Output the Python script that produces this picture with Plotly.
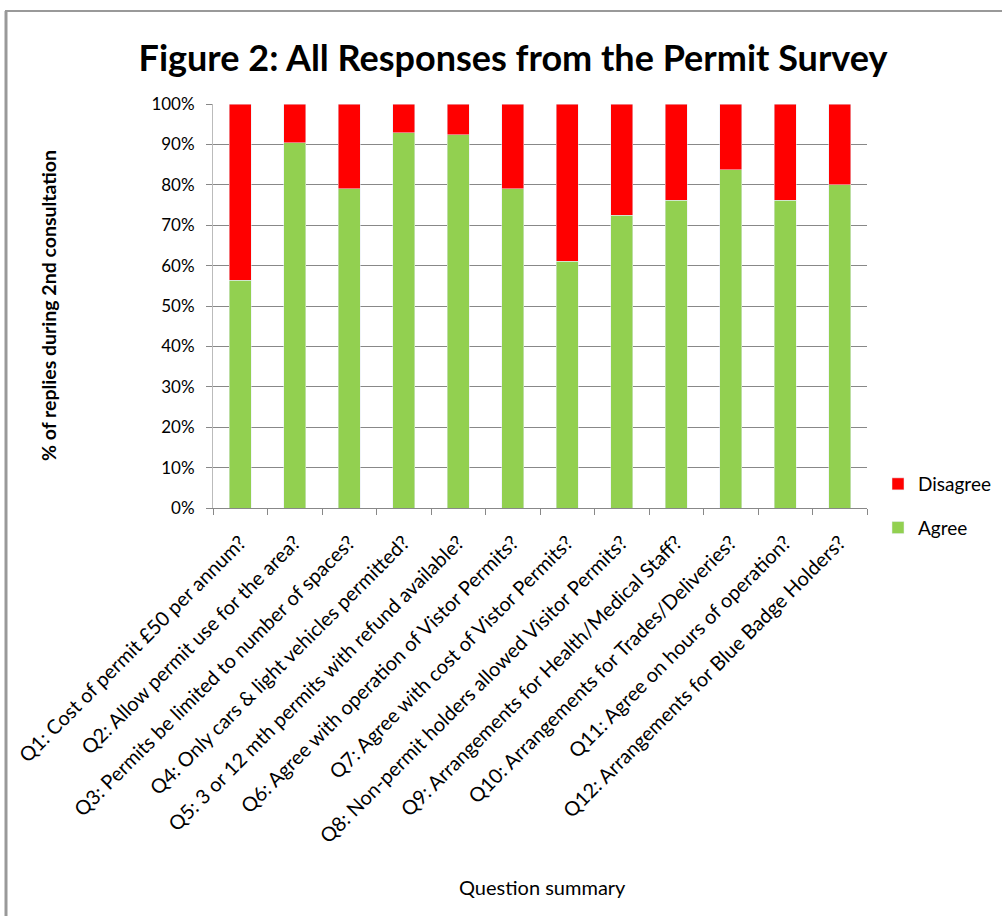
import plotly.graph_objects as go

questions = [
    "Q1: Cost of permit £50 per annum?",
    "Q2: Allow permit use for the area?",
    "Q3: Permits be limited to number of spaces?",
    "Q4: Only cars & light vehicles permitted?",
    "Q5: 3 or 12 mth permits with refund available?",
    "Q6: Agree with operation of Vistor Permits?",
    "Q7: Agree with cost of Vistor Permits?",
    "Q8: Non-permit holders allowed Visitor Permits?",
    "Q9: Arrangements for Health/Medical Staff?",
    "Q10: Arrangements for Trades/Deliveries?",
    "Q11: Agree on hours of operation?",
    "Q12: Arrangements for Blue Badge Holders?",
]
agree = [56.4, 90.4, 79.0, 92.9, 92.4, 79.0, 61.1, 72.5, 76.2, 83.7, 76.2, 80.0]
disagree = [round(100 - a, 1) for a in agree]
y_ticks = [0, 10, 20, 30, 40, 50, 60, 70, 80, 90, 100]
y_tick_labels = [f"{v}%" for v in y_ticks]

FONT = "Lato, 'Open Sans', sans-serif"

fig = go.Figure()
fig.add_trace(go.Bar(x=questions, y=agree, name="Agree", marker_color="#92D050",
                     legendgroup="a", legendrank=2))
fig.add_trace(go.Bar(x=questions, y=disagree, name="Disagree", marker_color="#FF0000",
                     legendgroup="d", legendrank=1))

L, R, T, B = 213, 867, 104, 508
W, H = 1002, 916
def px(x):
    return (x - L) / (R - L)
def py(y):
    return (B - y) / (B - T)

fig.update_layout(
    width=W, height=H,
    margin=dict(l=L, r=W - R, t=T, b=H - B, autoexpand=False),
    barmode="stack", bargap=0.6,
    paper_bgcolor="white", plot_bgcolor="white",
    font=dict(family=FONT, color="black", size=17),
    title=dict(text="<b>Figure 2: All Responses from the Permit Survey</b>",
               x=0.512, xanchor="center", y=1 - 58 / H, yanchor="middle",
               font=dict(size=36, family=FONT, color="black")),
    legend=dict(x=px(878), y=py(465), xanchor="left", yanchor="top",
                traceorder="grouped", tracegroupgap=16,
                font=dict(size=19, family=FONT), bgcolor="rgba(0,0,0,0)"),
    xaxis=dict(type="category", tickangle=-45, tickson="boundaries",
               ticks="outside", ticklen=6, tickcolor="#888888",
               showline=True, linecolor="#888888", showgrid=False,
               ticklabelstandoff=14,
               tickfont=dict(size=20, family=FONT)),
    yaxis=dict(range=[0, 100], tickvals=y_ticks, ticktext=y_tick_labels,
               ticks="outside", ticklen=6, tickcolor="#888888",
               showline=True, linecolor="#BBBBBB", showgrid=True,
               gridcolor="#888888", gridwidth=1, ticklabelstandoff=8,
               tickfont=dict(size=17, family=FONT)),
    annotations=[
        dict(text="<b>% of replies during 2nd consultation</b>", xref="paper", yref="paper",
             x=px(48), y=py(306), xanchor="center", yanchor="middle", textangle=-90,
             showarrow=False, font=dict(size=19.5, family=FONT, color="black")),
        dict(text="Question summary", xref="paper", yref="paper",
             x=px(542), y=py(887), xanchor="center", yanchor="middle",
             showarrow=False, font=dict(size=20, family=FONT, color="black")),
    ],
    shapes=[
        dict(type="line", xref="paper", yref="paper", x0=px(6), x1=px(6),
             y0=py(11), y1=py(916), line=dict(color="#999999", width=3)),
        dict(type="line", xref="paper", yref="paper", x0=px(5), x1=px(1002),
             y0=py(11), y1=py(11), line=dict(color="#999999", width=2)),
    ],
)

fig.write_html("out.html")
